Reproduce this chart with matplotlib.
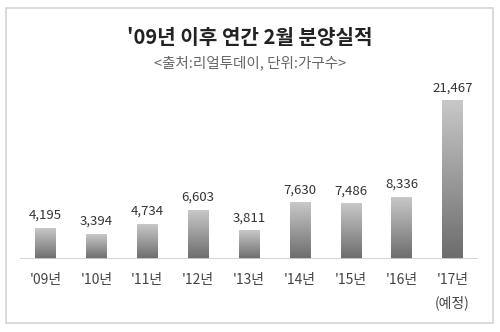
import matplotlib
matplotlib.use("Agg")
import matplotlib.pyplot as plt
from matplotlib.colors import LinearSegmentedColormap
from matplotlib.patches import Rectangle
import numpy as np

plt.rcParams['font.family'] = ['Noto Sans CJK KR', 'DejaVu Sans']

years = ["'09년", "'10년", "'11년", "'12년", "'13년", "'14년", "'15년", "'16년", "'17년\n(예정)"]
values = [4195, 3394, 4734, 6603, 3811, 7630, 7486, 8336, 21467]
title = "'09년 이후 연간 2월 분양실적"
subtitle = "<출처:리얼투데이, 단위:가구수>"

fig = plt.figure(figsize=(5, 3.32), dpi=100)
fig.patches.append(Rectangle((0.012, 0.027), 0.974, 0.95, transform=fig.transFigure,
                             fill=False, edgecolor='#d4d4d4', linewidth=1.2))

ax = fig.add_axes([0.04, 0.22, 0.916, 0.51])

cmap = LinearSegmentedColormap.from_list('g', ['#6c6c6c', '#c8c8c8'])
grad = np.linspace(0, 1, 256).reshape(-1, 1)
w = 0.4
for i, v in enumerate(values):
    ax.imshow(grad, cmap=cmap, origin='lower', aspect='auto',
              extent=(i - w / 2, i + w / 2, 0, v), zorder=2)
    ax.text(i, v + 900, f"{v:,}", ha='center', va='bottom', fontsize=9.5, color='#333333')

ax.axhline(0, color='#d0d0d0', linewidth=2, zorder=3)
ax.set_xlim(-0.5, len(values) - 0.5)
ax.set_ylim(0, 23000)
ax.set_xticks(range(len(values)))
ax.set_xticklabels(years, fontsize=10, color='#444444', linespacing=1.75, va='top')
ax.tick_params(axis='x', length=0, pad=10)
ax.set_yticks([])
for s in ax.spines.values():
    s.set_visible(False)

fig.text(0.5, 0.888, title, ha='center', va='center', fontsize=14.5, fontweight='bold', color='#222222')
fig.text(0.5, 0.81, subtitle, ha='center', va='center', fontsize=10.5, color='#666666')

fig.savefig('out.png', dpi=100)
